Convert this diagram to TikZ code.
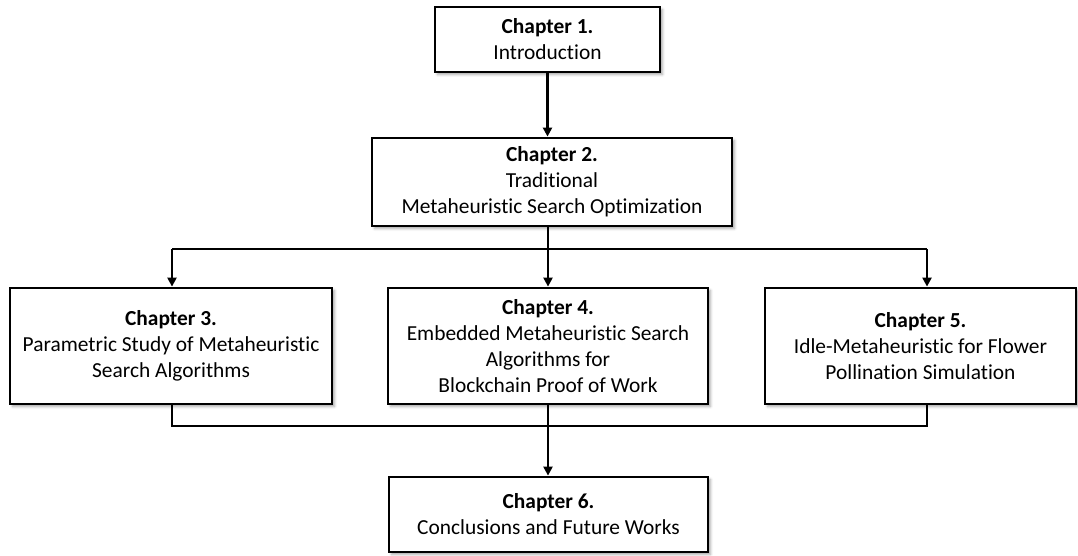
\documentclass[tikz,border=0pt]{standalone}
\usepackage{fontspec}
\setmainfont[Ligatures=NoCommon]{Carlito}
\usetikzlibrary{arrows.meta,shadows.blur}
\begin{document}
\begin{tikzpicture}[x=1pt,y=-1pt,
  chapbox/.style={draw=black, line width=2.8pt, fill=white, inner sep=0pt,
    align=center, font=\fontsize{21.4}{26}\selectfont,
    blur shadow={shadow xshift=2.5pt, shadow yshift=-2.5pt,
      shadow blur radius=2.5pt, shadow opacity=35}},
  link/.style={line width=2.2pt, line join=miter},
  arr/.style={link, -{Triangle[length=9pt,width=9pt]}}
]
\useasboundingbox (0,0) rectangle (1078,556);

% chapter boxes
\node[chapbox, minimum width=225pt, minimum height=65pt] (c1) at (547.5,39.5)
  {\textbf{Chapter 1.}\\Introduction};
\node[chapbox, minimum width=360pt, minimum height=88pt] (c2) at (552,182)
  {\textbf{Chapter 2.}\\Traditional\\Metaheuristic Search Optimization};
\node[chapbox, minimum width=322pt, minimum height=116pt] (c3) at (171,346)
  {\textbf{Chapter 3.}\\Parametric Study of Metaheuristic\\Search Algorithms};
\node[chapbox, minimum width=320pt, minimum height=116pt] (c4) at (548,346)
  {\textbf{Chapter 4.}\\Embedded Metaheuristic Search\\Algorithms for\\Blockchain Proof of Work};
\node[chapbox, minimum width=311pt, minimum height=116pt] (c5) at (920.5,346)
  {\textbf{Chapter 5.}\\Idle-Metaheuristic for Flower\\Pollination Simulation};
\node[chapbox, minimum width=319pt, minimum height=75pt] (c6) at (548.5,514.5)
  {\textbf{Chapter 6.}\\Conclusions and Future Works};

% branch and join points
\coordinate (split) at (548,249);
\coordinate (sl) at (172,249);
\coordinate (sr) at (927,249);
\coordinate (join) at (548,426);
\coordinate (jl) at (172,426);
\coordinate (jr) at (927,426);

% connectors
\draw[arr] (c1.south) -- (c1.south |- c2.north);
\draw[link] (split |- c2.south) -- (split);
\draw[link] (sl) -- (sr);
\draw[arr] (sl) -- (sl |- c3.north);
\draw[arr] (split) -- (split |- c4.north);
\draw[arr] (sr) -- (sr |- c5.north);
\draw[link] (jl |- c3.south) -- (jl) -- (jr) -- (jr |- c5.south);
\draw[link] (join |- c4.south) -- (join);
\draw[arr] (join) -- (join |- c6.north);
\end{tikzpicture}
\end{document}
